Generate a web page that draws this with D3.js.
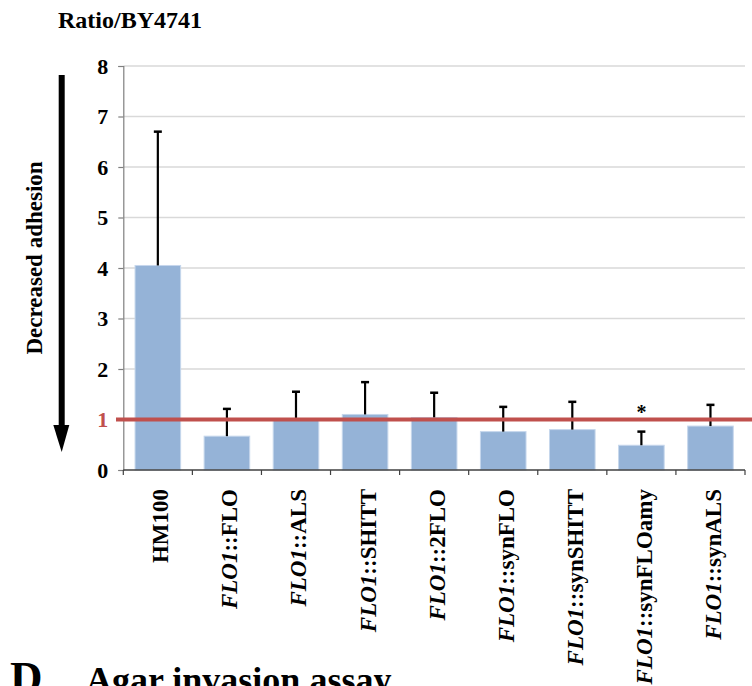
<!DOCTYPE html>
<html>
<head>
<meta charset="utf-8">
<script src="https://cdn.jsdelivr.net/npm/d3@7"></script>
<style>
  html, body { margin: 0; padding: 0; background: #fff; }
  svg { display: block; font-family: "Liberation Serif", "Times New Roman", serif; }
</style>
</head>
<body>
<svg id="chart" width="752" height="686"></svg>
<script>
// Adhesion ratio relative to BY4741 (mean and upper error bound)
const strains  = ["HM100", "FLO", "ALS", "SHITT", "2FLO", "synFLO", "synSHITT", "synFLOamy", "synALS"];
const prefixed = [false, true, true, true, true, true, true, true, true];
const ratios   = [4.05, 0.67, 1.00, 1.10, 1.04, 0.76, 0.80, 0.49, 0.87];
const errTops  = [6.70, 1.21, 1.55, 1.74, 1.53, 1.25, 1.35, 0.76, 1.29];
const signif   = [false, false, false, false, false, false, false, true, false];
const yTicks   = [0, 1, 2, 3, 4, 5, 6, 7, 8];
const baseline = 1;

const svg = d3.select("#chart");
const plotL = 123.3, plotR = 745, plotT = 66, plotB = 470;

const x = d3.scaleBand().domain(strains).range([plotL, plotR]).paddingInner(0.34).paddingOuter(0.17);
const xCat = d3.scaleBand().domain(strains).range([plotL, plotR]);
const y = d3.scaleLinear().domain([0, 8]).range([plotB, plotT]);

// horizontal gridlines
svg.append("g").selectAll("line").data(yTicks.filter(d => d > 0)).join("line")
  .attr("x1", plotL).attr("x2", plotR)
  .attr("y1", d => y(d)).attr("y2", d => y(d))
  .attr("stroke", "#d9d9d9").attr("stroke-width", 1.5);

// y axis
const yAxis = svg.append("g").attr("transform", `translate(${plotL},0)`)
  .call(d3.axisLeft(y).tickValues(yTicks).tickFormat(d3.format("d")).tickSize(5).tickPadding(10));
yAxis.select(".domain").attr("stroke", "#7f7f7f").attr("stroke-width", 1.2);
yAxis.selectAll(".tick line").attr("stroke", "#7f7f7f").attr("stroke-width", 1.2);
yAxis.selectAll(".tick text")
  .attr("font-family", "Liberation Serif, serif")
  .attr("font-size", 22).attr("font-weight", "bold")
  .attr("fill", d => d === baseline ? "#c0504d" : "#000");

// bars
svg.append("g").selectAll("rect").data(strains).join("rect")
  .attr("x", d => x(d))
  .attr("width", x.bandwidth())
  .attr("y", (d, i) => y(ratios[i]))
  .attr("height", (d, i) => y(0) - y(ratios[i]))
  .attr("fill", "#95b3d7")
  .attr("stroke", "#c6d7ec").attr("stroke-width", 1);

// upper error bars
const eb = svg.append("g").attr("stroke", "#000").attr("stroke-width", 2.2);
strains.forEach((s, i) => {
  const cx = x(s) + x.bandwidth() / 2;
  eb.append("line").attr("x1", cx).attr("x2", cx).attr("y1", y(ratios[i])).attr("y2", y(errTops[i]));
  eb.append("line").attr("x1", cx - 4).attr("x2", cx + 4).attr("y1", y(errTops[i])).attr("y2", y(errTops[i]))
    .attr("stroke-width", 2.5);
});

// x axis with category-boundary ticks
const xAxisG = svg.append("g").attr("transform", `translate(0,${plotB})`);
xAxisG.append("line").attr("x1", plotL).attr("x2", plotR).attr("stroke", "#404040").attr("stroke-width", 1.5);
const bounds = strains.map(s => xCat(s)).concat([plotR]);
xAxisG.selectAll("line.tk").data(bounds).join("line").attr("class", "tk")
  .attr("x1", d => d).attr("x2", d => d).attr("y1", 0).attr("y2", 5)
  .attr("stroke", "#404040").attr("stroke-width", 1.2);

// category labels (rotated)
const lbl = svg.append("g").selectAll("text").data(strains).join("text")
  .attr("transform", s => `translate(${xCat(s) + xCat.bandwidth() / 2 + 10.5},489) rotate(-90)`)
  .attr("text-anchor", "end")
  .attr("font-size", 23).attr("font-weight", "bold");
lbl.each(function (s, i) {
  const t = d3.select(this);
  if (prefixed[i]) {
    t.append("tspan").attr("font-style", "italic").text("FLO1");
    t.append("tspan").text("::" + s);
  } else {
    t.text(s);
  }
});

// reference line at ratio = 1
svg.append("line")
  .attr("x1", 116).attr("x2", 752)
  .attr("y1", y(baseline)).attr("y2", y(baseline))
  .attr("stroke", "#c0504d").attr("stroke-width", 4);

// significance marker
svg.append("g").selectAll("text").data(strains.filter((s, i) => signif[i])).join("text")
  .attr("x", s => x(s) + x.bandwidth() / 2)
  .attr("y", s => y(errTops[strains.indexOf(s)]) - 13)
  .attr("text-anchor", "middle")
  .attr("font-size", 20).attr("font-weight", "bold")
  .text("*");

// title
svg.append("text").attr("x", 58).attr("y", 28)
  .attr("font-size", 24).attr("font-weight", "bold").text("Ratio/BY4741");

// direction arrow with label
svg.append("rect").attr("x", 58.7).attr("y", 75).attr("width", 6).attr("height", 352).attr("fill", "#000");
svg.append("path").attr("d", "M53.3,425 L69.3,425 L61.7,452 Z").attr("fill", "#000");
svg.append("text")
  .attr("transform", "translate(42,258) rotate(-90)")
  .attr("text-anchor", "middle")
  .attr("font-size", 23).attr("font-weight", "bold")
  .text("Decreased adhesion");

// next panel heading
svg.append("text").attr("x", 10).attr("y", 692)
  .attr("font-size", 45).attr("font-weight", "bold").text("D");
svg.append("text").attr("x", 86).attr("y", 692)
  .attr("font-size", 36).attr("font-weight", "bold").text("Agar invasion assay");
</script>
</body>
</html>
